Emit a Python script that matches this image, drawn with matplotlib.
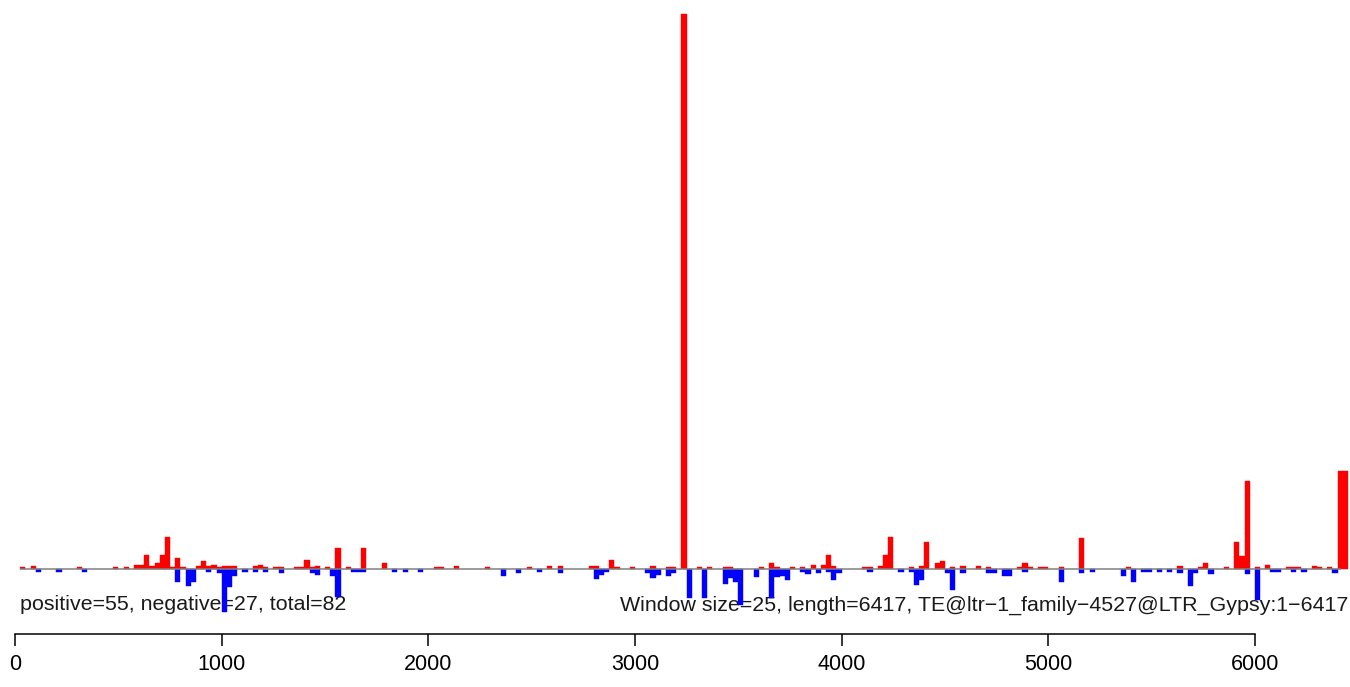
import matplotlib
matplotlib.use("Agg")
import matplotlib.pyplot as plt
import numpy as np

plt.rcParams['font.family'] = ['Liberation Sans', 'DejaVu Sans']

# ── Data ─────────────────────────────────────────────────────────────
window = 25
length = 6417

# window index -> signal on the plus strand (drawn up, red)
pos_bins = [1, 3, 12, 19, 21, 23, 24, 25, 26, 27, 28, 29, 30, 31, 32, 35, 36, 37, 38, 39,
            40, 41, 42, 46, 47, 48, 50, 51, 54, 55, 56, 57, 58, 60, 62, 64, 67, 71, 81, 82,
            85, 91, 99, 103, 105, 111, 112, 115, 116, 119, 123, 126, 127, 129, 132, 134,
            137, 138, 144, 146, 147, 150, 152, 154, 156, 157, 158, 164, 165, 167, 168, 169,
            173, 175, 176, 178, 179, 181, 183, 186, 188, 194, 195, 196, 198, 199, 202, 206,
            215, 225, 229, 230, 234, 236, 237, 238, 240, 242, 246, 247, 248, 251, 252, 254,
            256, 257]
pos_vals = [2, 3.5, 2, 2, 2, 4.5, 4.5, 14, 3.5, 6.5, 14, 32, 2, 11, 2, 3.5, 8, 3.5, 4.5, 2,
            3.5, 3.5, 3.5, 3.5, 4.5, 2, 2, 2, 2, 2, 9, 2, 3.5, 2, 21, 2, 21, 6.5, 2, 2,
            3.5, 2, 2, 3.5, 3.5, 3.5, 3.5, 9, 2, 2, 3.5, 2, 2, 555, 2, 2,
            2, 2, 2, 6.5, 2, 2, 2, 4.5, 4.5, 14, 3.5, 2, 2, 3.5, 14, 32,
            2, 3.5, 27, 6.5, 8, 2, 3.5, 3.5, 2, 2, 6.5, 2, 2, 2, 2, 31,
            2, 3.5, 2, 6.5, 2, 27, 13, 88, 2, 4.5, 2, 2, 2, 3.5, 2, 2,
            98, 98]

# window index -> signal on the minus strand (drawn down, blue)
neg_bins = [4, 8, 13, 31, 33, 34, 37, 39, 40, 41, 42, 44, 46, 48, 51, 57, 58, 61, 62, 65,
            66, 67, 73, 75, 78, 94, 97, 101, 105, 112, 113, 114, 122, 123, 124, 126, 127,
            130, 133, 137, 138, 139, 140, 143, 146, 147, 148, 149, 152, 153, 155, 157, 158,
            159, 165, 171, 173, 174, 175, 180, 181, 183, 188, 189, 191, 192, 195, 202, 206,
            208, 214, 216, 218, 219, 221, 223, 225, 227, 228, 231, 238, 240, 243, 244, 247,
            249, 255]
neg_vals = [2.5, 2.5, 2.5, 13, 17, 13, 2.5, 3.5, 43, 18, 7, 2.5, 2.5, 2.5, 3.5, 3.5, 5.5, 7, 28, 2.5,
            2.5, 2.5, 2.5, 2.5, 2.5, 7, 3.5, 2.5, 3.5, 10, 5.5, 2.5, 3.5, 8.5, 5.5, 7, 3.5,
            29, 29, 15, 9, 13, 36, 8, 29, 8, 7, 11, 2.5, 5, 3.5, 2.5, 10.5,
            3.5, 2.5, 2.5, 2.5, 16, 10.5, 3.5, 20.5, 3.5, 3.5, 3.5, 6.5, 6.5, 2.5, 13, 3.5,
            2.5, 6.5, 13, 2.5, 2.5, 2.5, 2.5, 4, 17, 4, 5, 5, 31, 2.5, 2.5, 2.5,
            2.5, 4]

n_pos, n_neg = 55, 27
te_name = "TE@ltr\u22121_family\u22124527@LTR_Gypsy:1\u22126417"

# ── Plot ─────────────────────────────────────────────────────────────
fig = plt.figure(figsize=(13.5, 6.87), dpi=100)
ax = fig.add_axes([0, 0, 1, 1])
ax.patch.set_visible(False)

# annotation first so the bars sit on top of it
ax.text(24, -36, f"positive={n_pos}, negative={n_neg}, total={n_pos + n_neg}",
        ha='left', va='center', fontsize=15.4, color='#1a1a1a', zorder=1)
ax.text(6450, -36, f"Window size={window}, length={length}, {te_name}",
        ha='right', va='center', fontsize=15.4, color='#1a1a1a', zorder=1)

ax.bar(np.array(pos_bins) * window, pos_vals, width=window, align='edge',
       color='#FF0000', edgecolor='#FF0000', linewidth=0.3, zorder=2)
ax.bar(np.array(neg_bins) * window, -np.array(neg_vals), width=window, align='edge',
       color='#0000FF', edgecolor='#0000FF', linewidth=0.3, zorder=2)
ax.hlines(0, window, length, color='#808080', linewidth=1.1, zorder=3)

# ── Axes ─────────────────────────────────────────────────────────────
ax.set_xlim(-72.6, 6459.7)
ax.set_ylim(-118, 569)
for side in ['top', 'right', 'left']:
    ax.spines[side].set_visible(False)
ax.spines['bottom'].set_position(('data', -65))
ax.spines['bottom'].set_bounds(0, 6000)
ax.spines['bottom'].set_linewidth(1.1)
ax.set_xticks(np.arange(0, 6001, 1000))
ax.tick_params(axis='x', length=8.6, width=1.1, labelsize=15.5, pad=6)
ax.set_yticks([])

fig.savefig('out.png', dpi=100)
